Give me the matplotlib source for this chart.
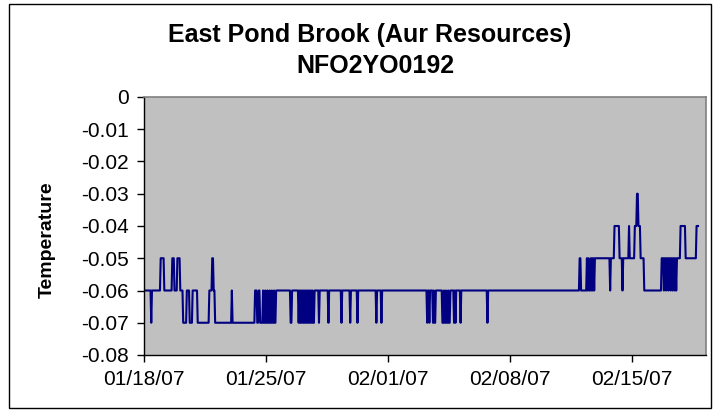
import numpy as np
import pandas as pd
import matplotlib
matplotlib.use('Agg')
import matplotlib.pyplot as plt
from matplotlib.patches import Rectangle

plt.rcParams['font.family'] = ['Liberation Sans', 'DejaVu Sans']

# hourly logger record, stored as runs: hour the run starts (from 01/18/07 00:00) and its value
start = pd.Timestamp('2007-01-18 00:00')
n_hours = 764
run_hour = [0, 10, 11, 23, 28, 39, 42, 46, 50, 54, 59, 63, 67, 74, 90, 94, 96, 98,
            121, 122, 153, 156, 158, 160, 164, 165, 167, 168, 170, 171, 173, 174,
            176, 177, 179, 180, 182, 202, 204,
            213, 214, 215, 216, 217, 218, 219, 220, 221, 222, 223, 224, 225, 226,
            227, 228, 229, 230, 231, 232, 233, 235,
            241, 242, 254, 255, 272, 273, 284, 285, 294,
            295, 320, 321, 327, 328, 390, 391, 393, 394, 398, 399, 400, 402, 411,
            413, 414, 416, 417, 419, 420, 422, 427, 428, 429, 430, 436, 437, 473,
            474, 600, 602, 610, 611, 612, 613, 615, 616, 617, 618, 619, 620, 621,
            642, 643, 648, 655, 659, 660, 668, 669, 676, 679, 681, 684, 689, 713,
            716, 717, 719, 720, 722, 723, 725, 726, 728, 729, 731, 732, 733, 734,
            739, 746, 761]
run_temp = [-0.06, -0.07, -0.06, -0.05, -0.06, -0.05, -0.06, -0.05, -0.06, -0.07,
            -0.06, -0.07, -0.06, -0.07, -0.06, -0.05, -0.06, -0.07,
            -0.06, -0.07, -0.06, -0.07, -0.06, -0.07, -0.06, -0.07, -0.06, -0.07,
            -0.06, -0.07, -0.06, -0.07,
            -0.06, -0.07, -0.06, -0.07, -0.06, -0.07, -0.06,
            -0.07, -0.06, -0.07, -0.06, -0.07, -0.06, -0.07, -0.06, -0.07, -0.06,
            -0.07, -0.06, -0.07, -0.06, -0.07, -0.06, -0.07, -0.06, -0.07, -0.06,
            -0.07, -0.06,
            -0.07, -0.06, -0.07, -0.06, -0.07, -0.06, -0.07, -0.06, -0.07,
            -0.06, -0.07, -0.06, -0.07, -0.06, -0.07, -0.06, -0.07, -0.06, -0.07,
            -0.06, -0.07, -0.06, -0.07,
            -0.06, -0.07, -0.06, -0.07, -0.06, -0.07, -0.06, -0.07, -0.06, -0.07,
            -0.06, -0.07, -0.06, -0.07,
            -0.06, -0.05, -0.06, -0.05, -0.06, -0.05, -0.06, -0.05, -0.06, -0.05,
            -0.06, -0.05, -0.06, -0.05,
            -0.06, -0.05, -0.04, -0.05, -0.06, -0.05, -0.04, -0.05, -0.04, -0.03,
            -0.04, -0.05, -0.06, -0.05,
            -0.06, -0.05, -0.06, -0.05, -0.06, -0.05, -0.06, -0.05, -0.06, -0.05,
            -0.06, -0.05, -0.06, -0.05,
            -0.04, -0.05, -0.04]

counts = np.diff(run_hour + [n_hours])
temp = np.repeat(run_temp, counts)
times = start + pd.to_timedelta(np.arange(n_hours), unit='h')

x_ticks = pd.to_datetime(['2007-01-18', '2007-01-25', '2007-02-01', '2007-02-08', '2007-02-15'])
x_labels = ['01/18/07', '01/25/07', '02/01/07', '02/08/07', '02/15/07']
y_ticks = [0, -0.01, -0.02, -0.03, -0.04, -0.05, -0.06, -0.07, -0.08]
y_labels = ['0', '-0.01', '-0.02', '-0.03', '-0.04', '-0.05', '-0.06', '-0.07', '-0.08']

fig = plt.figure(figsize=(7.13, 4.12), dpi=100)
fig.patches.append(Rectangle((9 / 713, 4 / 412), 702 / 713, 404 / 412, transform=fig.transFigure,
                             fill=False, edgecolor='black', linewidth=1))

ax = fig.add_axes([144 / 713, 1 - 355 / 412, 562 / 713, 258 / 412])
ax.set_facecolor('#C0C0C0')
ax.plot(times, temp, color='#000080', linewidth=1.5)

ax.set_xlim(start, start + pd.Timedelta(hours=774))
ax.set_ylim(-0.08, 0)
ax.set_xticks(x_ticks)
ax.set_xticklabels(x_labels, fontsize=15)
ax.set_yticks(y_ticks)
ax.set_yticklabels(y_labels, fontsize=15)
ax.tick_params(direction='out', length=5, width=1, color='black', pad=6)

for side in ['top', 'right']:
    ax.spines[side].set_color('#808080')
    ax.spines[side].set_linewidth(1.2)
for side in ['left', 'bottom']:
    ax.spines[side].set_color('black')
    ax.spines[side].set_linewidth(1)

fig.text(370 / 713, 1 - 35 / 412, 'East Pond Brook (Aur Resources)',
         ha='center', va='center', fontsize=18, fontweight='bold')
fig.text(375 / 713, 1 - 66 / 412, 'NFO2YO0192',
         ha='center', va='center', fontsize=18, fontweight='bold')
fig.text(47 / 713, 1 - 240 / 412, 'Temperature', ha='center', va='center',
         rotation=90, fontsize=14, fontweight='bold')

fig.savefig('out.png', dpi=100)
